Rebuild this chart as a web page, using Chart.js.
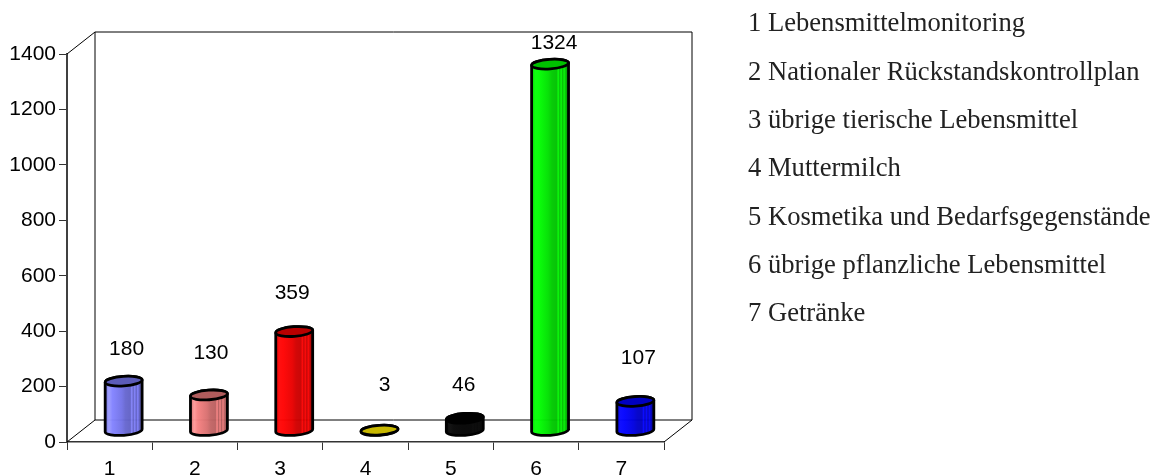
<!DOCTYPE html>
<html>
<head>
<meta charset="utf-8">
<style>
  html, body { margin: 0; padding: 0; background: #fff; }
  canvas { display: block; }
</style>
<script src="https://cdn.jsdelivr.net/npm/chart.js@4"></script>
</head>
<body>
<canvas id="barChart" width="1158" height="475"></canvas>
<script>
var categories = ['1', '2', '3', '4', '5', '6', '7'];
var values = [180, 130, 359, 3, 46, 1324, 107];
var yTicks = [0, 200, 400, 600, 800, 1000, 1200, 1400];
var legendNames = [
    '1 Lebensmittelmonitoring',
    '2 Nationaler Rückstandskontrollplan',
    '3 übrige tierische Lebensmittel',
    '4 Muttermilch',
    '5 Kosmetika und Bedarfsgegenstände',
    '6 übrige pflanzliche Lebensmittel',
    '7 Getränke'
];
// body colour, top colour
var bodyColors = ['#7272e6', '#d87070', '#e80000', '#c8b800', '#030303', '#00e000', '#0000e0'];
var topColors = ['#5c5cb8', '#b05c5c', '#b80000', '#c8b800', '#000000', '#00c000', '#0000c0'];
// hand placed value labels, [dx, dy] from the top of each cylinder
var labelNudge = [[3, -32], [2, -42], [-2, -38], [5, -45], [-1, -33], [4, -21], [3, -43]];

var depthX = 28, depthY = 22;

// brighten (amt > 0) or darken (amt < 0) a hex colour
function shade(hex, amt) {
    var n = parseInt(hex.slice(1), 16);
    var parts = [n >> 16, (n >> 8) & 255, n & 255].map(function (c) {
        var v = amt > 0 ? c * (1 + amt * 1.5) + 255 * amt * 0.15 : c * (1 + amt);
        return Math.round(Math.min(255, v));
    });
    return 'rgb(' + parts.join(',') + ')';
}

var scenePlugin = {
    id: 'scene',
    beforeDatasetsDraw: function (chart) {
        var c = chart.ctx, a = chart.chartArea;
        c.save();
        c.strokeStyle = '#000';
        c.lineWidth = 1;
        c.beginPath();
        c.moveTo(a.left, a.top);
        c.lineTo(a.left + depthX, a.top - depthY);
        c.lineTo(a.right + depthX, a.top - depthY);
        c.lineTo(a.right + depthX, a.bottom - depthY);
        c.lineTo(a.left + depthX, a.bottom - depthY);
        c.lineTo(a.left + depthX, a.top - depthY);
        c.moveTo(a.left, a.bottom);
        c.lineTo(a.left + depthX, a.bottom - depthY);
        c.moveTo(a.right, a.bottom);
        c.lineTo(a.right + depthX, a.bottom - depthY);
        c.stroke();
        c.restore();
    },
    afterDatasetsDraw: function (chart) {
        var c = chart.ctx;
        chart.getDatasetMeta(0).data.forEach(function (bar, i) {
            var cx = bar.x + depthX / 2;
            var topY = bar.y - depthY / 2;
            var baseY = bar.base - depthY / 2;
            var rx = bar.width / 2, ry = 4.8, rot = -0.07;
            var col = bodyColors[i];

            var g = c.createLinearGradient(cx - rx, 0, cx + rx, 0);
            g.addColorStop(0, shade(col, -0.05));
            g.addColorStop(0.1, shade(col, 0.2));
            g.addColorStop(0.2, shade(col, 0.08));
            g.addColorStop(0.45, col);
            g.addColorStop(0.55, shade(col, -0.1));
            g.addColorStop(0.68, shade(col, -0.14));
            g.addColorStop(0.72, shade(col, 0.1));
            g.addColorStop(0.76, shade(col, -0.16));
            g.addColorStop(0.8, shade(col, 0.08));
            g.addColorStop(0.84, shade(col, -0.18));
            g.addColorStop(0.88, shade(col, 0.06));
            g.addColorStop(0.93, shade(col, -0.2));
            g.addColorStop(1, shade(col, -0.3));

            c.save();
            c.lineWidth = 2.8;
            c.strokeStyle = '#000';
            c.lineJoin = 'round';
            c.beginPath();
            c.ellipse(cx, baseY, rx, ry, rot, 0, Math.PI);
            c.ellipse(cx, topY, rx, ry, rot, Math.PI, 0);
            c.closePath();
            c.globalAlpha = 0.97;
            c.fillStyle = g;
            c.fill();
            c.globalAlpha = 1;
            c.stroke();
            c.beginPath();
            c.ellipse(cx, topY, rx, ry, rot, 0, Math.PI * 2);
            c.fillStyle = topColors[i];
            c.fill();
            c.stroke();

            c.fillStyle = '#000';
            c.font = '21px "Liberation Sans"';
            c.textAlign = 'center';
            c.textBaseline = 'middle';
            c.fillText(values[i], cx + labelNudge[i][0], topY + labelNudge[i][1]);
            c.restore();
        });
    },
    afterDraw: function (chart) {
        var c = chart.ctx;
        c.save();
        c.fillStyle = '#222';
        c.font = '26.6px "Liberation Serif"';
        c.textAlign = 'left';
        c.textBaseline = 'middle';
        legendNames.forEach(function (name, i) {
            c.fillText(name, 748, 24.5 + i * 48.3);
        });
        c.restore();
    }
};

new Chart(document.getElementById('barChart').getContext('2d'), {
    type: 'bar',
    plugins: [scenePlugin],
    data: {
        labels: categories,
        datasets: [{
            data: values,
            backgroundColor: 'rgba(0,0,0,0)',
            borderWidth: 0,
            barPercentage: 1,
            categoryPercentage: 0.434
        }]
    },
    options: {
        responsive: false,
        animation: false,
        layout: { padding: { top: 54, right: 494, left: 0, bottom: 0 } },
        plugins: {
            legend: { display: false },
            title: { display: false },
            tooltip: { enabled: false }
        },
        scales: {
            x: {
                afterFit: function (scale) { scale.height = 33; },
                border: { color: '#333', width: 1.5 },
                grid: { drawOnChartArea: false, color: '#333', tickLength: 8, lineWidth: 1 },
                ticks: { color: '#000', font: { family: 'Liberation Sans', size: 21 }, padding: 7, maxRotation: 0 }
            },
            y: {
                min: yTicks[0],
                max: yTicks[yTicks.length - 1],
                afterFit: function (scale) { scale.width = 67; },
                afterBuildTicks: function (scale) {
                    scale.ticks = yTicks.map(function (v) { return { value: v }; });
                },
                border: { color: '#404040', width: 2 },
                grid: { drawOnChartArea: false, color: '#333', tickLength: 8, lineWidth: 1 },
                ticks: {
                    color: '#000',
                    font: { family: 'Liberation Sans', size: 21 },
                    padding: 3,
                    callback: function (v) { return String(v); }
                }
            }
        }
    }
});
</script>
</body>
</html>
